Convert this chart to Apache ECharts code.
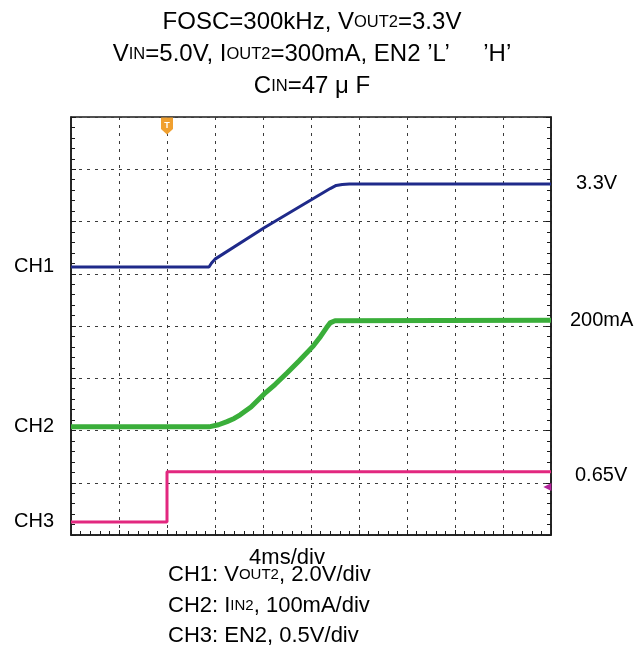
<!DOCTYPE html>
<html>
<head>
<meta charset="utf-8">
<script src="https://cdn.jsdelivr.net/npm/echarts@6/dist/echarts.min.js"></script>
<style>
  html, body { margin: 0; padding: 0; background: #fff; }
  #chart { width: 639px; height: 658px; }
</style>
</head>
<body>
<div id="chart"></div>
<script>
// time in ms (4 ms/div, 10 div), levels in divisions from the bottom (8 div)
const ch1Time = [0, 11.5, 11.7, 12.0, 16.1, 21.6, 22.1, 22.6, 23.2, 40];
const ch1Level = [5.13, 5.13, 5.2, 5.28, 5.88, 6.63, 6.69, 6.71, 6.72, 6.72];
const ch2Time = [0, 11.5, 12.3, 13.0, 13.6, 14.1, 15.0, 16.1, 17.0, 18.0, 19.0, 20.2, 20.8, 21.3, 21.6, 22.0, 40];
const ch2Level = [2.07, 2.07, 2.11, 2.17, 2.23, 2.3, 2.45, 2.7, 2.88, 3.1, 3.33, 3.62, 3.8, 3.97, 4.06, 4.1, 4.11];
const ch3Time = [0, 8.0, 8.0, 40];
const ch3Level = [0.25, 0.25, 1.21, 1.21];
const channelNames = ['CH1', 'CH2', 'CH3'];
const endLabels = ['3.3V', '200mA', '0.65V'];
const triggerTime = 8;
const triggerLevel = 0.92;

const zip = (xs, ys) => xs.map((x, i) => [x, ys[i]]);
const font = 'Arial, "Liberation Sans", sans-serif';
const ink = '#1a1a1a';

const gridLine = {show: true, lineStyle: {color: '#3a3a3a', width: 1, type: [3, 5]}};
const ticks = {
    axisTick: {show: true, inside: true, length: 5, lineStyle: {color: ink, width: 1}},
    minorTick: {show: true, splitNumber: 5, length: 4, lineStyle: {color: ink, width: 1}},
    axisLabel: {show: false}
};

const leftLabel = (name, y) => ({
    coord: [0, y],
    symbolSize: 0,
    label: {show: true, position: 'left', distance: 17, formatter: name, color: '#000', fontSize: 20, fontFamily: font}
});

const chart = echarts.init(document.getElementById('chart'));
chart.setOption({
    animation: false,
    backgroundColor: '#fff',
    title: [
        {
            left: 312, top: 6, textAlign: 'center', padding: 0,
            text: 'FOSC=300kHz, V{s|OUT2}=3.3V\nV{s|IN}=5.0V, I{s|OUT2}=300mA, EN2 ’L’     ’H’\nC{s|IN}=47 μ F',
            textStyle: {
                fontSize: 24, lineHeight: 32, fontWeight: 'normal', color: '#000', fontFamily: font,
                rich: {s: {fontSize: 16.5, lineHeight: 32, color: '#000', fontFamily: font}}
            }
        },
        {
            left: 287, top: 545, textAlign: 'center', padding: 0,
            text: '4ms/div',
            textStyle: {fontSize: 22, lineHeight: 26, fontWeight: 'normal', color: '#000', fontFamily: font}
        },
        {
            left: 168, top: 560, padding: 0,
            text: 'CH1: V{s|OUT2}, 2.0V/div\nCH2: I{s|IN2}, 100mA/div\nCH3: EN2, 0.5V/div',
            textStyle: {
                fontSize: 22, lineHeight: 30.5, fontWeight: 'normal', color: '#000', fontFamily: font,
                rich: {s: {fontSize: 15, lineHeight: 30.5, color: '#000', fontFamily: font}}
            }
        }
    ],
    grid: {left: 71, right: 88, top: 117, bottom: 123, show: true, borderColor: ink, borderWidth: 1.5},
    xAxis: {
        type: 'value', min: 0, max: 40, interval: 4,
        axisLine: {show: true, lineStyle: {color: ink, width: 1.5}},
        splitLine: gridLine,
        ...ticks
    },
    yAxis: [
        {
            type: 'value', min: 0, max: 8, interval: 1, position: 'left',
            axisLine: {show: true, lineStyle: {color: ink, width: 1.5}},
            splitLine: gridLine,
            ...ticks
        },
        {
            type: 'value', min: 0, max: 8, interval: 1, position: 'right',
            axisLine: {show: true, lineStyle: {color: ink, width: 1.5}},
            splitLine: {show: false},
            ...ticks
        }
    ],
    series: [
        {
            name: channelNames[0], type: 'line', showSymbol: false,
            data: zip(ch1Time, ch1Level),
            lineStyle: {color: '#1f2a8a', width: 3},
            endLabel: {show: true, formatter: endLabels[0], distance: 25, color: '#000', fontSize: 20, fontFamily: font},
            markPoint: {data: [leftLabel(channelNames[0], ch1Level[0])]}
        },
        {
            name: channelNames[1], type: 'line', showSymbol: false,
            data: zip(ch2Time, ch2Level),
            lineStyle: {color: '#3aae3a', width: 5, join: 'round'},
            endLabel: {show: true, formatter: endLabels[1], distance: 19, color: '#000', fontSize: 20, fontFamily: font},
            markPoint: {data: [leftLabel(channelNames[1], ch2Level[0])]}
        },
        {
            name: channelNames[2], type: 'line', showSymbol: false,
            data: zip(ch3Time, ch3Level),
            lineStyle: {color: '#e2277f', width: 3},
            endLabel: {show: true, formatter: endLabels[2], distance: 24, offset: [0, 4], color: '#000', fontSize: 20, fontFamily: font},
            markPoint: {
                data: [
                    leftLabel(channelNames[2], ch3Level[0]),
                    {
                        coord: [triggerTime, 7.83],
                        symbol: 'path://M0,0 L10,0 L10,11 L5,16 L0,11 Z',
                        symbolSize: [12, 17],
                        itemStyle: {color: '#f0a030'},
                        label: {show: true, position: 'inside', formatter: 'T', color: '#fff', fontSize: 9, fontWeight: 'bold'}
                    },
                    {
                        coord: [39.7, triggerLevel],
                        symbol: 'triangle', symbolRotate: 90, symbolSize: 8,
                        itemStyle: {color: '#b4259c'},
                        label: {show: false}
                    }
                ]
            }
        }
    ]
});
</script>
</body>
</html>
